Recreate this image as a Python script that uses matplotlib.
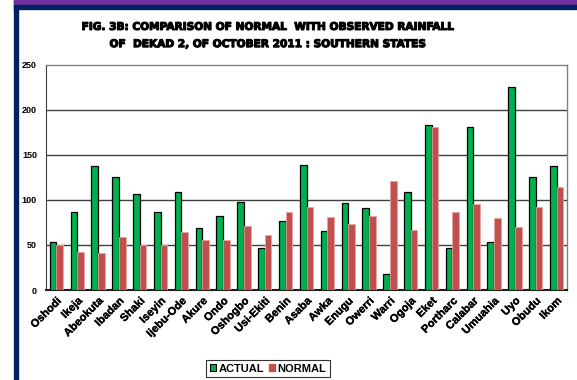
import matplotlib
matplotlib.use("Agg")
import matplotlib.pyplot as plt
import matplotlib.patheffects as pe
import numpy as np
from matplotlib.patches import Rectangle

stations = ["Oshodi", "Ikeja", "Abeokuta", "Ibadan", "Shaki", "Iseyin", "Ijebu-Ode",
            "Akure", "Ondo", "Oshogbo", "Usi-Ekiti", "Benin", "Asaba", "Awka", "Enugu",
            "Owerri", "Warri", "Ogoja", "Eket", "Portharc", "Calabar", "Umuahia", "Uyo",
            "Obudu", "Ikom"]
actual = [53, 87, 137, 125, 106, 87, 109, 69, 82, 98, 47, 76, 139, 65, 97,
          91, 18, 109, 183, 47, 181, 53, 225, 125, 138]
normal = [50, 42, 41, 59, 50, 50, 64, 55, 55, 71, 61, 87, 92, 81, 73,
          82, 121, 67, 181, 87, 95, 80, 70, 92, 114]
y_ticks = [0, 50, 100, 150, 200, 250]

title = ("FIG. 3B: COMPARISON OF NORMAL  WITH OBSERVED RAINFALL\n"
         "OF  DEKAD 2, OF OCTOBER 2011 : SOUTHERN STATES")

W, H = 577, 380
fig = plt.figure(figsize=(W / 100, H / 100), dpi=100)
fig.patch.set_facecolor("white")

# page decoration: navy margin bar, purple and navy header bands
def px_rect(x0, y0, x1, y1, color):
    fig.patches.append(Rectangle((x0 / W, 1 - y1 / H), (x1 - x0) / W, (y1 - y0) / H,
                                 transform=fig.transFigure, color=color, zorder=0))

px_rect(14, 0, 18, H, "#002060")
px_rect(14, 0, W, 4.7, "#7030A0")
px_rect(14, 4.7, W, 9, "#002060")

ax = fig.add_axes([46 / W, 1 - 290 / H, 521 / W, 225.5 / H])
x = np.arange(len(stations))
bw = 0.32
green = "#00B050"
red = "#C0504D"
ax.bar(x - bw / 2, actual, bw, color=green, edgecolor="black", linewidth=0.9, zorder=3)
ax.bar(x + bw / 2, normal, bw, color=red, edgecolor="#E8A5A3", linewidth=0.6, zorder=3)

ax.set_xlim(-0.5, len(stations) - 0.5)
ax.set_ylim(0, 250)
ax.set_yticks(y_ticks)
ax.set_yticklabels([str(v) for v in y_ticks], fontsize=6.5, fontweight="bold",
                   family="Liberation Sans")
for v in y_ticks[1:-1]:
    ax.axhline(v, color="#404040", linewidth=1.0, zorder=1)
ax.set_xticks(x)
ax.set_xticklabels(stations, rotation=45, ha="right", va="top", rotation_mode="anchor",
                   fontsize=8, fontweight="bold", family="Liberation Sans")
for lbl in ax.get_xticklabels():
    lbl.set_path_effects([pe.withStroke(linewidth=0.2, foreground="black")])
ax.tick_params(axis="both", length=0)
ax.tick_params(axis="y", pad=6.5)
ax.tick_params(axis="x", pad=4)

for side in ("top", "right"):
    ax.spines[side].set_color("#808080")
    ax.spines[side].set_linewidth(1.0)
ax.spines["left"].set_color("#404040")
ax.spines["bottom"].set_color("#202020")
ax.spines["bottom"].set_linewidth(1.5)

fig.text(267 / W, 1 - 35.5 / H, title, ha="center", va="center", fontsize=7.6,
         fontweight="heavy", family="DejaVu Sans", linespacing=1.9,
         path_effects=[pe.withStroke(linewidth=0.8, foreground="black")])

handles = [Rectangle((0, 0), 1, 1, facecolor=green, edgecolor="black", linewidth=0.8),
           Rectangle((0, 0), 1, 1, facecolor=red, edgecolor=red)]
leg = fig.legend(handles, ["ACTUAL", "NORMAL"], loc="center", bbox_to_anchor=(268 / W, 1 - 368.5 / H),
                 ncol=2, frameon=True, fancybox=False, edgecolor="black",
                 prop={"family": "Liberation Sans", "weight": "bold", "size": 8},
                 handlelength=0.6, handleheight=0.6, handletextpad=0.2, columnspacing=0.4,
                 borderpad=0.35, borderaxespad=0)
leg.get_frame().set_linewidth(0.8)

fig.savefig("out.png", dpi=100, facecolor="white")
